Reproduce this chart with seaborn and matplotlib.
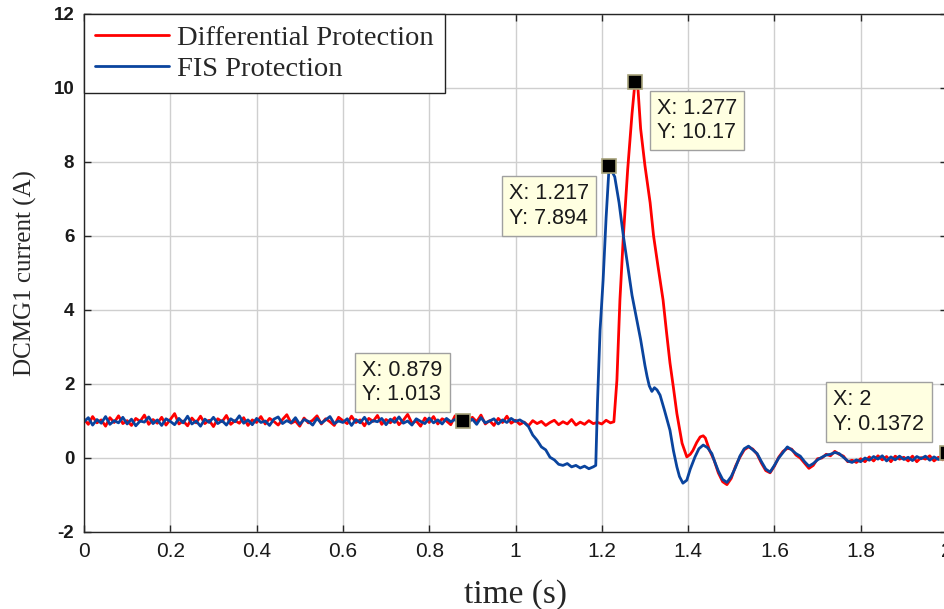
import numpy as np
import pandas as pd
import seaborn as sns
import matplotlib.pyplot as plt
from matplotlib.ticker import FixedLocator, FixedFormatter

# ---- data ----
# Differential protection (red): steady part 0..1.22 s, step 0.01
diff_base = [1.05, 0.91, 1.12, 0.95, 1.03, 0.86, 1.09, 0.96, 1.14, 0.93,
             1.01, 0.88, 1.07, 0.99, 1.16, 0.91, 1.04, 0.94, 1.10, 0.89,
             1.04, 1.20, 0.92, 1.00, 0.87, 1.08, 0.95, 1.13, 0.93, 1.02,
             0.85, 1.06, 0.98, 1.15, 0.91, 1.01, 0.94, 1.09, 0.88, 1.03,
             0.96, 1.12, 0.92, 1.07, 0.99, 0.89, 1.04, 1.17, 0.94, 1.00,
             0.86, 1.08, 0.95, 1.02, 1.14, 0.92, 1.06, 0.98, 0.88, 1.10,
             1.01, 0.93, 1.13, 0.96, 1.03, 0.87, 1.07, 0.99, 1.15, 0.91,
             1.04, 0.95, 1.09, 0.90, 1.02, 1.18, 0.94, 1.00, 0.86, 1.08,
             0.96, 1.12, 0.92, 1.06, 1.00, 0.90, 1.14, 0.95, 1.03, 0.93,
             1.10, 0.98, 1.16, 0.92, 1.01, 0.88, 1.07, 0.96, 1.13, 0.94,
             1.02, 0.91, 0.97, 0.87, 1.01, 0.93, 0.99, 0.88, 0.96, 1.02,
             0.90, 0.98, 0.92, 1.04, 0.89, 0.97, 0.91, 1.01, 0.93, 0.96,
             0.92, 1.02, 0.95]
diff_mid_t = [1.228, 1.235, 1.242, 1.25, 1.26, 1.27, 1.277, 1.284, 1.29, 1.30,
              1.312, 1.32, 1.33, 1.342, 1.35, 1.358, 1.366, 1.374, 1.386, 1.397,
              1.405, 1.411, 1.42, 1.428, 1.435, 1.44, 1.45]
diff_mid = [0.98, 2.1, 4.27, 6.0, 7.8, 9.3, 10.17, 9.95, 8.9, 7.9,
            6.9, 6.0, 5.2, 4.27, 3.4, 2.57, 1.9, 1.2, 0.4, 0.03,
            0.1, 0.2, 0.42, 0.57, 0.6, 0.54, 0.2]
# tail 1.46..2.00 s, step 0.01
diff_tail = [-0.05, -0.4, -0.64, -0.72, -0.55, -0.22, 0.02, 0.22, 0.3, 0.24,
             0.1, -0.14, -0.34, -0.4, -0.22, 0.02, 0.18, 0.26, 0.24, 0.08,
             0.0, -0.14, -0.28, -0.2, -0.02, 0.0, 0.1, 0.06, 0.18, 0.1,
             0.05, -0.1, -0.06, -0.12, -0.02, -0.1, 0.03, -0.08, 0.06, -0.05,
             0.04, -0.1, 0.05, -0.03, 0.02, -0.08, 0.05, -0.1, 0.01, -0.03,
             0.06, -0.08, 0.02, -0.05, 0.1372]

# FIS protection (blue): steady part 0..1.02 s, step 0.01
fis_base = [0.98, 1.09, 0.89, 1.04, 0.94, 1.12, 0.91, 1.01, 0.95, 1.10,
            0.92, 1.05, 0.87, 1.00, 0.97, 1.11, 0.93, 1.03, 0.88, 1.06,
            0.99, 0.90, 1.07, 0.95, 1.13, 0.92, 1.00, 0.86, 1.05, 0.96,
            1.10, 0.93, 1.01, 0.89, 1.06, 0.98, 1.14, 0.94, 1.03, 0.90,
            1.07, 0.96, 1.00, 0.88, 1.05, 1.11, 0.93, 1.01, 0.95, 1.09,
            0.91, 1.04, 0.99, 0.89, 1.07, 0.94, 1.03, 1.12, 0.93, 1.00,
            0.96, 1.06, 0.88, 1.04, 0.95, 1.10, 0.92, 1.01, 0.98, 1.07,
            0.90, 1.05, 0.96, 1.11, 0.94, 1.00, 0.89, 1.06, 0.99, 0.93,
            1.08, 0.95, 1.03, 0.92, 1.07, 0.98, 1.04, 0.94, 1.01, 0.96,
            1.05, 0.91, 1.09, 0.95, 1.00, 1.06, 0.92, 1.03, 0.96, 1.07,
            0.99, 1.03, 0.96]
fis_mid_t = [1.03, 1.04, 1.05, 1.06, 1.07, 1.08, 1.09, 1.10, 1.11, 1.12,
             1.13, 1.14, 1.15, 1.16, 1.17, 1.18, 1.186, 1.19, 1.196, 1.203,
             1.21, 1.217, 1.23, 1.24, 1.25, 1.26, 1.27, 1.28, 1.29, 1.30,
             1.305, 1.31, 1.316, 1.322, 1.328, 1.335, 1.345, 1.358, 1.366, 1.374,
             1.38, 1.388, 1.397, 1.405, 1.416, 1.425, 1.435, 1.445, 1.455]
fis_mid = [0.85, 0.62, 0.48, 0.30, 0.22, 0.02, -0.05, -0.17, -0.2, -0.15,
           -0.24, -0.2, -0.27, -0.22, -0.29, -0.24, -0.2, 1.5, 3.46, 4.8,
           6.5, 7.894, 7.6, 6.9, 6.0, 5.2, 4.4, 3.8, 3.2, 2.5,
           2.2, 1.95, 1.8, 1.9, 1.84, 1.7, 1.3, 0.75, 0.2, -0.24,
           -0.5, -0.68, -0.6, -0.3, 0.03, 0.25, 0.35, 0.28, 0.12]
fis_tail = [-0.05, -0.35, -0.58, -0.66, -0.5, -0.25, 0.05, 0.25, 0.32, 0.22,
            0.12, -0.1, -0.3, -0.38, -0.2, 0.0, 0.15, 0.3, 0.22, 0.12,
            0.05, -0.1, -0.22, -0.15, -0.05, 0.02, 0.08, 0.1, 0.15, 0.12,
            0.02, -0.08, -0.12, -0.05, -0.1, 0.0, -0.06, 0.04, -0.03, 0.06,
            -0.08, 0.03, -0.05, 0.05, -0.04, 0.02, -0.07, 0.04, -0.02, 0.05,
            -0.06, 0.03, -0.04, 0.02, 0.06]

# data tips: (x, y, offset of box centre in pixels)
tip_x = [0.879, 1.217, 1.277, 2.0]
tip_y = [1.013, 7.894, 10.17, 0.1372]
tip_text = ['X: 0.879\nY: 1.013', 'X: 1.217\nY: 7.894',
            'X: 1.277\nY: 10.17', 'X: 2\nY: 0.1372']
tip_offset = [(-61, 38), (-60, -40), (62, -39), (-68, 41)]

x_ticks = [0, 0.2, 0.4, 0.6, 0.8, 1, 1.2, 1.4, 1.6, 1.8, 2]
x_labels = ['0', '0.2', '0.4', '0.6', '0.8', '1', '1.2', '1.4', '1.6', '1.8', '2']
y_ticks = [-2, 0, 2, 4, 6, 8, 10, 12]

t_diff = np.concatenate([np.round(np.arange(0, 1.225, 0.01), 3), diff_mid_t,
                         np.round(np.arange(1.46, 2.005, 0.01), 3)])
i_diff = np.array(diff_base + diff_mid + diff_tail)
t_fis = np.concatenate([np.round(np.arange(0, 1.025, 0.01), 3), fis_mid_t,
                        np.round(np.arange(1.46, 2.005, 0.01), 3)])
i_fis = np.array(fis_base + fis_mid + fis_tail)

df = pd.concat([
    pd.DataFrame({'t': t_diff, 'i': i_diff, 'prot': 'Differential Protection'}),
    pd.DataFrame({'t': t_fis, 'i': i_fis, 'prot': 'FIS Protection'}),
])

sns.set_style('ticks')
plt.rcParams['font.family'] = ['Liberation Sans', 'DejaVu Sans']
plt.rcParams['axes.unicode_minus'] = False

fig = plt.figure(figsize=(9.44, 6.09), dpi=100)
ax = fig.add_axes([84 / 944, 77 / 609, 863 / 944, 518 / 609])

sns.lineplot(data=df, x='t', y='i', hue='prot', sort=False, estimator=None,
             palette=['#ff0000', '#0a449e'], linewidth=2.0, ax=ax)

ax.set_xlim(0, 2)
ax.set_ylim(-2, 12)
ax.xaxis.set_major_locator(FixedLocator(x_ticks))
ax.xaxis.set_major_formatter(FixedFormatter(x_labels))
ax.set_yticks(y_ticks)
ax.grid(True, color='#cfcfcf', linewidth=1.0)
ax.set_axisbelow(True)
for s in ax.spines.values():
    s.set_color('#262626')
    s.set_linewidth(1.0)
ax.tick_params(direction='in', length=5, width=1, color='#262626',
               top=True, right=True, pad=7)
for lab in ax.get_yticklabels():
    lab.set_fontsize(13.5)
    lab.set_fontweight('bold')
    lab.set_color('#1a1a1a')
for lab in ax.get_xticklabels():
    lab.set_fontsize(15)
    lab.set_color('#1a1a1a')

ax.set_xlabel('time (s)', family='Liberation Serif', fontsize=24, labelpad=13)
ax.set_ylabel('DCMG1 current (A)', family='Liberation Serif', fontsize=18, labelpad=12)

leg = ax.legend(loc='upper left', borderaxespad=0, fancybox=False, framealpha=1,
                edgecolor='#222222', handlelength=2.6, labelspacing=0.2,
                handletextpad=0.3, borderpad=0.38,
                prop={'family': 'Liberation Serif', 'size': 20.5})
leg.get_frame().set_linewidth(1.0)
for h in leg.get_lines():
    h.set_linewidth(2.0)

# data tips
ax.plot(tip_x, tip_y, linestyle='none', marker='s', markersize=10,
        markerfacecolor='black', markeredgecolor='#a6a27a', markeredgewidth=1.2,
        clip_on=False, zorder=5)
for x, y, txt, off in zip(tip_x, tip_y, tip_text, tip_offset):
    ax.annotate(txt, (x, y), xytext=off, textcoords='offset pixels',
                ha='center', va='center', multialignment='left',
                fontsize=15.5, linespacing=1.2,
                family='Liberation Sans', color='#1a1a1a', zorder=6,
                bbox=dict(boxstyle='square,pad=0.33', facecolor='#ffffe1',
                          edgecolor='#a0a0a0', linewidth=1.0))

fig.savefig('out.png', dpi=100)
